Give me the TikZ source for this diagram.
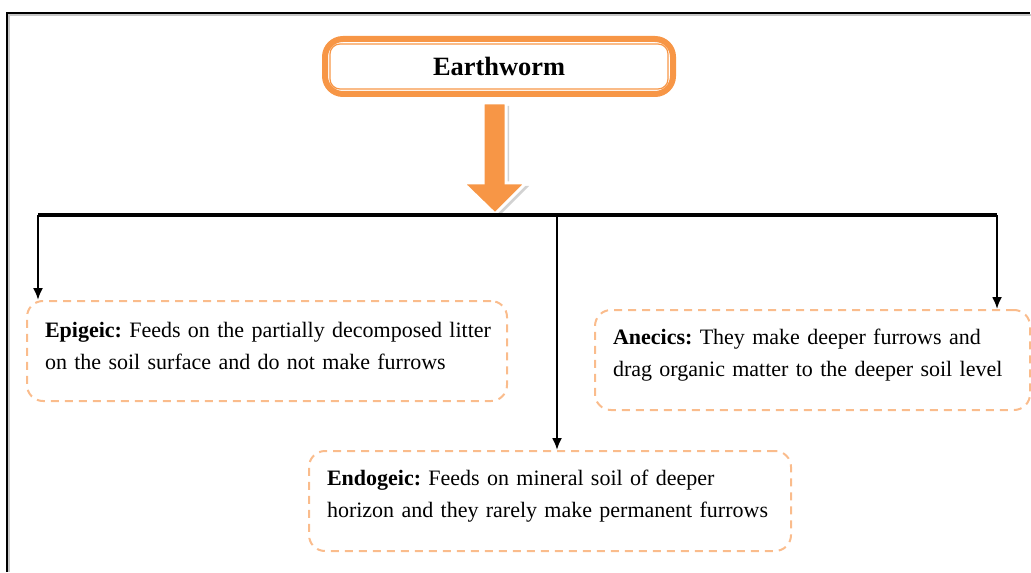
\documentclass[tikz,border=0pt]{standalone}
\usepackage{fontspec}
\setmainfont{Liberation Serif}
\usepackage{tikz}
\usetikzlibrary{arrows.meta}
\usetikzlibrary{positioning}
\definecolor{wormorange}{RGB}{247,150,70}
\definecolor{dashorange}{RGB}{250,188,140}
\frenchspacing
\newcommand\liftup{\endgraf\vspace{5pt}}

\begin{document}
\begin{tikzpicture}[x=0.5pt,y=-0.5pt,
	type node/.style={draw=dashorange, dash pattern=on 4pt off 3pt, line width=1pt, rounded corners=8pt, align=left, inner xsep=9pt, minimum height=50pt, anchor=north west, font=\fontsize{11}{16}\selectfont, execute at end node=\liftup},
	link/.style={-{Latex[length=6pt,width=5pt]}, line width=1pt}]
			\useasboundingbox (0,0) rectangle (1031,572);
			% Frame
			\draw[gray!45, line width=1pt] (9,572) -- (9,15) -- (1031,15);
			\draw[line width=1pt] (7,572) -- (7,13) -- (1030,13);
			
			% Nodes
			\node[draw=wormorange, line width=3pt, rounded corners=9pt, minimum width=174pt, minimum height=27.5pt, font=\bfseries\fontsize{13.2}{15}\selectfont] (ew) at (499,66.5) {Earthworm};
			\draw[wormorange, line width=0.6pt, rounded corners=5pt] ([shift={(8,8)}]ew.north west) rectangle ([shift={(-8,-8)}]ew.south east);
			
			\node[type node, text width=222pt] (epi) at (26,300) {\mbox{\textbf{Epigeic:} Feeds on the partially decomposed litter}\\\mbox{on the soil surface and do not make furrows}};
			\node[type node, text width=199.5pt] (ane) at (594,309) {\mbox{\textbf{Anecics:} They make deeper furrows and}\\\mbox{drag organic matter to the deeper soil level}};
			\node[type node, text width=223pt] (endo) at (308,450) {\mbox{\textbf{Endogeic:} Feeds on mineral soil of deeper}\\\mbox{horizon and they rarely make permanent furrows}};
			
			% Block arrow
			\fill[gray!35] (486,106) -- (509,106) -- (509,186) -- (529,186) -- (498,217) -- (466,186) -- (486,186) -- cycle;
			\filldraw[fill=wormorange, draw=white, line width=1.5pt] (483,103) -- (506,103) -- (506,183) -- (526,183) -- (495,214) -- (463,183) -- (483,183) -- cycle;
			
			% Branches
			\coordinate (jl) at (38,215);
			\coordinate (jm) at (557,215);
			\coordinate (jr) at (997,215);
			\draw[line width=1.6pt] (jl) -- (jr);
			\draw[link] (jl) -- (jl |- epi.north);
			\draw[link] (jm) -- (jm |- endo.north);
			\draw[link] (jr) -- (jr |- ane.north);
			
\end{tikzpicture}
\end{document}
